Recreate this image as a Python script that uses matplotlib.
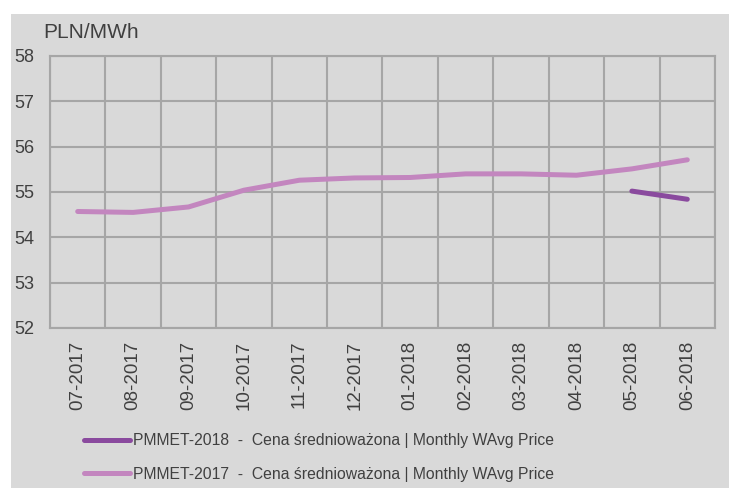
import matplotlib
matplotlib.use("Agg")
import matplotlib.pyplot as plt
from matplotlib.patches import Rectangle
from matplotlib.ticker import FixedLocator

categories = ["07-2017", "08-2017", "09-2017", "10-2017", "11-2017", "12-2017",
              "01-2018", "02-2018", "03-2018", "04-2018", "05-2018", "06-2018"]
pmmet_2017 = [54.57, 54.55, 54.67, 55.04, 55.26, 55.31, 55.32, 55.40, 55.40, 55.37, 55.51, 55.71]
pmmet_2018 = [None] * 10 + [55.02, 54.84]
yticks = [52, 53, 54, 55, 56, 57, 58]
label_2018 = "PMMET-2018  -  Cena średnioważona | Monthly WAvg Price"
label_2017 = "PMMET-2017  -  Cena średnioważona | Monthly WAvg Price"

plt.rcParams['font.family'] = ['Liberation Sans', 'DejaVu Sans']
TXT = "#404040"
GRID = "#a6a6a6"
BG = "#d9d9d9"
C2018 = "#8a4a9e"
C2017 = "#c386bf"

W, H = 729, 488
fig = plt.figure(figsize=(W / 100, H / 100), dpi=100)
fig.patch.set_facecolor("white")
fig.patches.append(Rectangle((11 / W, 0), 1 - 11 / W, (H - 14) / H,
                             transform=fig.transFigure, facecolor=BG,
                             edgecolor="none", zorder=-10))

ax = fig.add_axes([50 / W, (H - 328) / H, 665 / W, (328 - 56) / H])
ax.set_facecolor(BG)

x = list(range(len(categories)))
y18 = [float('nan') if v is None else v for v in pmmet_2018]
ax.plot(x, y18, color=C2018, lw=3.6, solid_capstyle='round', label=label_2018, zorder=4)
ax.plot(x, pmmet_2017, color=C2017, lw=3.6, solid_capstyle='round', label=label_2017, zorder=3)

ax.set_xlim(-0.5, len(categories) - 0.5)
ax.set_ylim(52, 58)
ax.set_yticks(yticks)
ax.set_xticks(x)
ax.set_xticklabels(categories, rotation=90, fontsize=13.5, color=TXT)
ax.xaxis.set_minor_locator(FixedLocator([i - 0.5 for i in range(len(categories) + 1)]))
ax.tick_params(axis='x', which='both', length=0, pad=9)
ax.tick_params(axis='y', length=0, pad=11.5, labelsize=13, labelcolor=TXT)
ax.grid(axis='y', which='major', color=GRID, lw=1.5)
ax.grid(axis='x', which='minor', color=GRID, lw=1.5)
ax.set_axisbelow(True)
for s in ax.spines.values():
    s.set_color(GRID)
    s.set_linewidth(1.5)

fig.text(43 / W, 1 - 33 / H, "PLN/MWh", fontsize=15, color=TXT, va='center', ha='left')

leg = fig.legend(loc='upper left', bbox_to_anchor=(84 / W, 1 - 433 / H),
                 frameon=False, fontsize=11.3, handlelength=2.9, handletextpad=0.25,
                 labelspacing=1.18, labelcolor=TXT, borderaxespad=0, borderpad=0)

fig.savefig("out.png", dpi=100)
